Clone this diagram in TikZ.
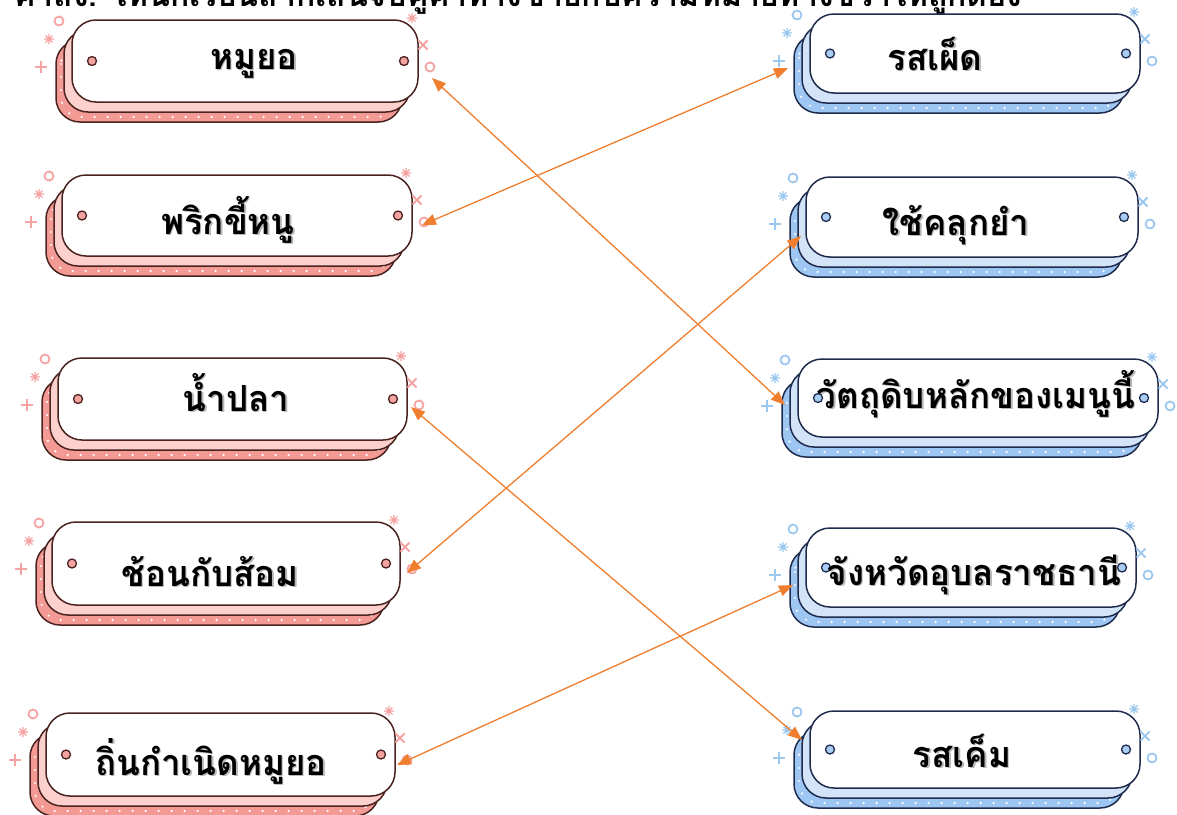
\documentclass[tikz,border=0pt]{standalone}
\usepackage{fontspec}
\newfontfamily\thaifont[Script=Thai]{Loma}
\newfontfamily\thainarrow[Script=Thai,FakeStretch=0.97]{Loma}
\usetikzlibrary{arrows.meta}
\definecolor{outL}{HTML}{4A2320}
\definecolor{midL}{HTML}{FBD0CD}
\definecolor{backL}{HTML}{F49A95}
\definecolor{dotL}{HTML}{F3A3A0}
\definecolor{decoL}{HTML}{F6A3A3}
\definecolor{outR}{HTML}{1F2B4D}
\definecolor{midR}{HTML}{D3E3F8}
\definecolor{backR}{HTML}{9EC6F3}
\definecolor{dotR}{HTML}{A9CDF5}
\definecolor{decoR}{HTML}{9CC8F0}
\definecolor{linkc}{HTML}{EF7F2E}
\tikzset{
  frontbox/.style={rectangle, fill=white, line width=1.5pt, rounded corners=24pt, inner sep=0pt, outer sep=0pt},
  lab/.style={font=\thainarrow\bfseries\fontsize{36}{40}\selectfont, inner sep=0pt},
  link/.style={linkc, line width=1.3pt, {Triangle[length=14pt,width=11pt]}-{Triangle[length=14pt,width=11pt]}},
}
\newcommand\decoast[3]{\draw[#1, line width=1.2pt, shift={(#2,#3)}] (-5pt,0) -- (5pt,0) (0,-5pt) -- (0,5pt) (-3.5pt,-3.5pt) -- (3.5pt,3.5pt) (-3.5pt,3.5pt) -- (3.5pt,-3.5pt);}
\newcommand\decoplus[3]{\draw[#1, line width=1.8pt, shift={(#2,#3)}] (-6pt,0) -- (6pt,0) (0,-6pt) -- (0,6pt);}
\newcommand\decocross[3]{\draw[#1, line width=1.8pt, shift={(#2,#3)}] (-4.5pt,-4.5pt) -- (4.5pt,4.5pt) (-4.5pt,4.5pt) -- (4.5pt,-4.5pt);}
\newcommand\decoring[3]{\draw[#1, line width=1.8pt] (#2,#3) circle (4.5pt);}
% #1 name #2 x1 #3 y1 #4 x2 #5 y2 #6 side #7 text x #8 text #9 baseline
\newcommand\tagbox[9]{%
  \filldraw[fill=back#6, draw=out#6, line width=1.5pt, rounded corners=24pt] ({#2-16},{#3+20}) rectangle ({#4-16},{#5+20});
  \draw[white, line width=2.4pt, line cap=round, dash pattern=on 0pt off 13pt, rounded corners=20pt] ({#2-11},{#3+24}) rectangle ({#4-21},{#5+15});
  \filldraw[fill=mid#6, draw=out#6, line width=1.5pt, rounded corners=24pt] ({#2-8},{#3+10}) rectangle ({#4-8},{#5+10});
  \node[frontbox, draw=out#6, minimum width={(#4-#2)*1pt}, minimum height={(#5-#3)*1pt}, anchor=north west] (#1) at (#2,#3) {};
  \filldraw[fill=dot#6, draw=out#6, line width=1.3pt] ({#2+20},{(#3+#5)/2}) circle (4.5pt);
  \filldraw[fill=dot#6, draw=out#6, line width=1.3pt] ({#4-14},{(#3+#5)/2}) circle (4.5pt);
  \decoring{deco#6}{{#2-13}}{{#3+1}}
  \decoast{deco#6}{{#2-23}}{{#3+19}}
  \decoplus{deco#6}{{#2-31}}{{#3+47}}
  \decoast{deco#6}{{#4-6}}{{#3-2}}
  \decocross{deco#6}{{#4+5}}{{#3+25}}
  \decoring{deco#6}{{#4+12}}{{#3+47}}
  \node[lab, anchor=base, text=black!55, opacity=.5] (#1s) at ({#7+1.5},{#9+1.5}) {#8};
  \node[lab, anchor=base] (#1t) at (#7,#9) {#8};
}
\begin{document}
\begin{tikzpicture}[x=1pt,y=-1pt]
\useasboundingbox (0,0) rectangle (1177,814);
\clip (0,0) rectangle (1177,814);
\fill[white] (0,0) rectangle (1177,814);
\node[font=\thaifont\bfseries\fontsize{32}{36}\selectfont, anchor=base west, inner sep=0pt] (title) at (14,6) {คำสั่ง: ให้นักเรียนลากเส้นจับคู่คำทางซ้ายกับความหมายทางขวาให้ถูกต้อง};
% left boxes
\tagbox{L1}{72}{20}{418}{102}{L}{254}{หมูยอ}{69}
\tagbox{L2}{62}{175}{412}{256}{L}{228}{พริกขี้หนู}{234}
\tagbox{L3}{58}{358}{407}{440}{L}{236}{น้ำปลา}{411}
\tagbox{L4}{52}{522}{400}{605}{L}{210}{ช้อนกับส้อม}{586}
\tagbox{L5}{46}{713}{395}{796}{L}{211}{ถิ่นกำเนิดหมูยอ}{775}
% right boxes
\tagbox{R1}{810}{14}{1140}{93}{R}{935}{รสเผ็ด}{70}
\tagbox{R2}{806}{177}{1138}{257}{R}{956}{ใช้คลุกยำ}{235}
\tagbox{R3}{798}{359}{1158}{437}{R}{976}{วัตถุดิบหลักของเมนูนี้}{408}
\tagbox{R4}{806}{528}{1136}{607}{R}{974}{จังหวัดอุบลราชธานี}{585}
\tagbox{R5}{810}{711}{1140}{788}{R}{962}{รสเค็ม}{767}
% connector ends
\coordinate (a1) at (432,78);
\coordinate (a2) at (422,225);
\coordinate (a3) at (411,407);
\coordinate (a4) at (407,573);
\coordinate (a5) at (397,765);
\coordinate (b1) at (788,68);
\coordinate (b2) at (801,236);
\coordinate (b3) at (785,405);
\coordinate (b4) at (793,585);
\coordinate (b5) at (802,740);
\draw[link] (a1) -- (b3);
\draw[link] (a2) -- (b1);
\draw[link] (a3) -- (b5);
\draw[link] (a4) -- (b2);
\draw[link] (a5) -- (b4);
\end{tikzpicture}
\end{document}
